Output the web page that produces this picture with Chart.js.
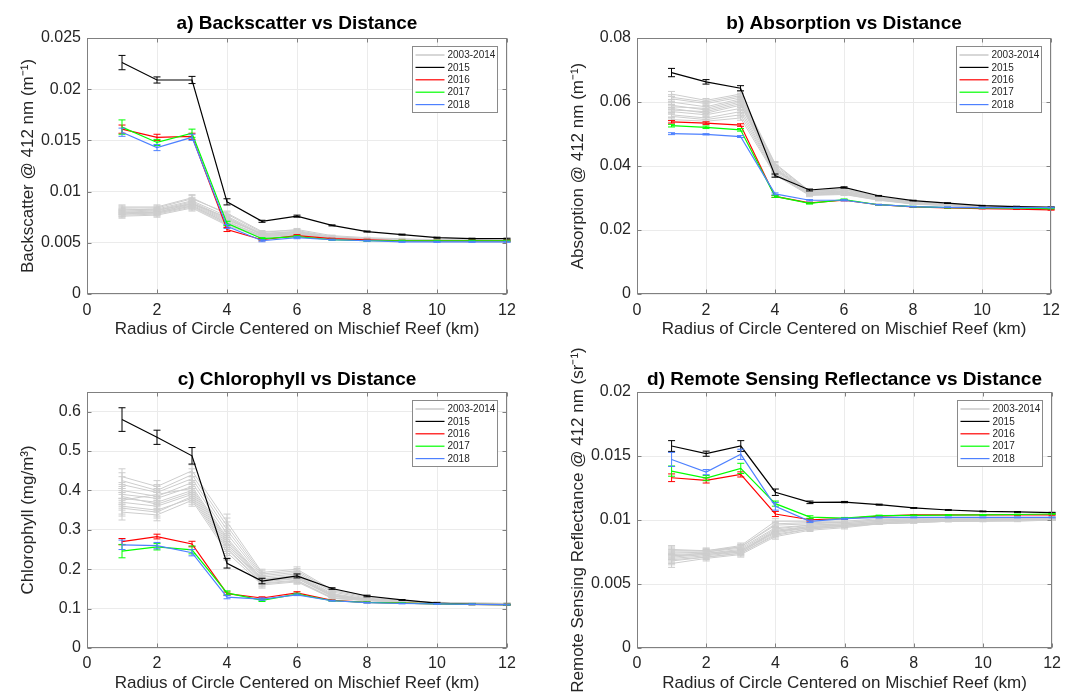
<!DOCTYPE html>
<html><head><meta charset="utf-8">
<script src="https://cdn.jsdelivr.net/npm/chart.js@4.4.1/dist/chart.umd.min.js"></script>
<style>
html,body{margin:0;padding:0;background:#fff;width:1067px;height:694px;overflow:hidden;position:relative}
canvas{position:absolute}
</style></head><body>
<canvas id="ca" width="533" height="347" style="left:0;top:0"></canvas>
<canvas id="cb" width="517" height="347" style="left:550px;top:0"></canvas>
<canvas id="cc" width="533" height="347" style="left:0;top:347px"></canvas>
<canvas id="cd" width="517" height="347" style="left:550px;top:347px"></canvas>
<script>
// ---------------- DATA ----------------
const radius = [1,2,3,4,5,6,7,8,9,10,11,12];
const xTicks = [0,2,4,6,8,10,12];
const legendLabels = ['2003-2014','2015','2016','2017','2018'];
const xAxisTitle = 'Radius of Circle Centered on Mischief Reef (km)';

// a) Backscatter
const bbpTitle = 'a) Backscatter vs Distance';
const bbpAxisTitle = 'Backscatter @ 412 nm (m\u207B\u00B9)';
const bbpTicks = [0,0.005,0.01,0.015,0.02,0.025];
const bbpTickLabels = ['0','0.005','0.01','0.015','0.02','0.025'];
const bbp2015 = [0.0226,0.0209,0.0209,0.0090,0.0071,0.0076,0.0067,0.0061,0.0058,0.0055,0.0054,0.0054];
const bbp2015Err = [0.0007,0.0003,0.00035,0.0003,0.0001,0.0001,0.00005,0.00005,0.00005,0.00005,0.00005,0.00005];
const bbp2016 = [0.0161,0.0153,0.0154,0.0063,0.0053,0.0057,0.0054,0.0053,0.0052,0.0052,0.0052,0.0052];
const bbp2016Err = [0.0004,0.0003,0.0003,0.0002,0.0001,0.0001,0.00005,0.00005,0.00005,0.00005,0.00005,0.00005];
const bbp2017 = [0.0163,0.0148,0.0157,0.0069,0.0054,0.0056,0.0053,0.0052,0.0052,0.0052,0.0052,0.0052];
const bbp2017Err = [0.0007,0.0003,0.0004,0.0002,0.0001,0.0001,0.00005,0.00005,0.00005,0.00005,0.00005,0.00005];
const bbp2018 = [0.0158,0.0143,0.0153,0.0066,0.0052,0.0055,0.0053,0.0052,0.0051,0.0051,0.0051,0.0051];
const bbp2018Err = [0.0004,0.0003,0.0003,0.0002,0.0001,0.0001,0.00005,0.00005,0.00005,0.00005,0.00005,0.00005];
const bbp2003to2014 = [
  [0.0078,0.0079,0.0086,0.0070,0.0057,0.0059,0.0054,0.0053,0.0052,0.0052,0.0051,0.0051],
  [0.0080,0.0081,0.0089,0.0073,0.0058,0.0060,0.0055,0.0053,0.0052,0.0052,0.0052,0.0051],
  [0.0082,0.0083,0.0091,0.0076,0.0059,0.0061,0.0055,0.0054,0.0053,0.0052,0.0052,0.0052],
  [0.0077,0.0078,0.0085,0.0068,0.0056,0.0058,0.0054,0.0053,0.0052,0.0051,0.0051,0.0051],
  [0.0084,0.0084,0.0093,0.0079,0.0061,0.0062,0.0056,0.0054,0.0053,0.0053,0.0052,0.0052],
  [0.0079,0.0080,0.0087,0.0071,0.0057,0.0059,0.0054,0.0053,0.0052,0.0052,0.0051,0.0051],
  [0.0081,0.0082,0.0090,0.0074,0.0058,0.0060,0.0055,0.0054,0.0053,0.0052,0.0052,0.0052],
  [0.0083,0.0082,0.0088,0.0072,0.0059,0.0061,0.0056,0.0054,0.0053,0.0052,0.0052,0.0052],
  [0.0076,0.0077,0.0084,0.0067,0.0055,0.0057,0.0053,0.0052,0.0052,0.0051,0.0051,0.0051],
  [0.0080,0.0079,0.0086,0.0069,0.0056,0.0058,0.0054,0.0053,0.0052,0.0052,0.0051,0.0051],
  [0.0085,0.0085,0.0094,0.0078,0.0060,0.0063,0.0057,0.0055,0.0054,0.0053,0.0053,0.0052],
  [0.0078,0.0080,0.0088,0.0075,0.0058,0.0060,0.0055,0.0053,0.0052,0.0052,0.0052,0.0051]
];
const bbp2003to2014Err = [0.0002,0.0002,0.0003,0.0002,0.0001,0.0001,0.00005,0.00005,0.00005,0.00005,0.00005,0.00005];

// b) Absorption
const absTitle = 'b) Absorption vs Distance';
const absAxisTitle = 'Absorption @ 412 nm (m\u207B\u00B9)';
const absTicks = [0,0.02,0.04,0.06,0.08];
const absTickLabels = ['0','0.02','0.04','0.06','0.08'];
const abs2015 = [0.0692,0.0663,0.0643,0.0370,0.0325,0.0333,0.0307,0.0292,0.0284,0.0276,0.0273,0.0271];
const abs2015Err = [0.0013,0.0007,0.0008,0.0005,0.0003,0.0002,0.0001,0.0001,0.0001,0.0001,0.0001,0.0001];
const abs2016 = [0.0538,0.0534,0.0528,0.0305,0.0285,0.0293,0.0279,0.0272,0.0269,0.0267,0.0265,0.0263];
const abs2016Err = [0.0004,0.0004,0.0004,0.0003,0.0002,0.0002,0.0001,0.0001,0.0001,0.0001,0.0001,0.0001];
const abs2017 = [0.0526,0.0521,0.0513,0.0305,0.0283,0.0295,0.0279,0.0273,0.0270,0.0269,0.0268,0.0267];
const abs2017Err = [0.0004,0.0004,0.0004,0.0003,0.0002,0.0002,0.0001,0.0001,0.0001,0.0001,0.0001,0.0001];
const abs2018 = [0.0501,0.0499,0.0492,0.0313,0.0293,0.0293,0.0279,0.0273,0.0271,0.0270,0.0270,0.0270];
const abs2018Err = [0.0003,0.0002,0.0003,0.0003,0.0002,0.0002,0.0001,0.0001,0.0001,0.0001,0.0001,0.0001];
const abs2003to2014 = [
  [0.0555,0.0545,0.0560,0.0375,0.0310,0.0312,0.0294,0.0282,0.0277,0.0272,0.0271,0.0270],
  [0.0580,0.0565,0.0590,0.0385,0.0315,0.0318,0.0298,0.0284,0.0278,0.0273,0.0272,0.0271],
  [0.0600,0.0585,0.0610,0.0395,0.0318,0.0322,0.0301,0.0286,0.0279,0.0274,0.0272,0.0271],
  [0.0545,0.0540,0.0550,0.0372,0.0308,0.0311,0.0293,0.0281,0.0276,0.0272,0.0270,0.0269],
  [0.0625,0.0605,0.0625,0.0408,0.0322,0.0328,0.0305,0.0288,0.0280,0.0275,0.0273,0.0272],
  [0.0570,0.0560,0.0580,0.0380,0.0312,0.0315,0.0296,0.0283,0.0277,0.0273,0.0271,0.0270],
  [0.0590,0.0575,0.0600,0.0390,0.0316,0.0320,0.0300,0.0285,0.0278,0.0274,0.0272,0.0271],
  [0.0610,0.0595,0.0615,0.0400,0.0320,0.0325,0.0303,0.0287,0.0279,0.0274,0.0273,0.0272],
  [0.0560,0.0550,0.0570,0.0378,0.0311,0.0314,0.0295,0.0282,0.0277,0.0272,0.0271,0.0270],
  [0.0575,0.0570,0.0595,0.0388,0.0314,0.0317,0.0297,0.0284,0.0278,0.0273,0.0272,0.0271],
  [0.0615,0.0600,0.0620,0.0405,0.0321,0.0327,0.0304,0.0288,0.0280,0.0275,0.0273,0.0272],
  [0.0585,0.0580,0.0605,0.0392,0.0317,0.0321,0.0299,0.0285,0.0279,0.0274,0.0272,0.0271]
];
const abs2003to2014Err = [0.0008,0.0006,0.0007,0.0006,0.0004,0.0003,0.0002,0.0001,0.0001,0.0001,0.0001,0.0001];

// c) Chlorophyll
const chlTitle = 'c) Chlorophyll vs Distance';
const chlAxisTitle = 'Chlorophyll (mg/m\u00B3)';
const chlTicks = [0,0.1,0.2,0.3,0.4,0.5,0.6];
const chlTickLabels = ['0','0.1','0.2','0.3','0.4','0.5','0.6'];
const chl2015 = [0.580,0.535,0.488,0.215,0.170,0.183,0.151,0.132,0.122,0.114,0.111,0.110];
const chl2015Err = [0.030,0.018,0.021,0.012,0.007,0.005,0.002,0.002,0.001,0.001,0.001,0.001];
const chl2016 = [0.270,0.283,0.264,0.138,0.127,0.140,0.121,0.116,0.114,0.112,0.111,0.110];
const chl2016Err = [0.008,0.006,0.007,0.004,0.003,0.003,0.001,0.001,0.001,0.001,0.001,0.001];
const chl2017 = [0.246,0.257,0.249,0.140,0.121,0.137,0.120,0.116,0.114,0.112,0.111,0.110];
const chl2017Err = [0.017,0.008,0.010,0.005,0.003,0.002,0.001,0.001,0.001,0.001,0.001,0.001];
const chl2018 = [0.262,0.260,0.242,0.129,0.124,0.135,0.120,0.115,0.113,0.112,0.111,0.110];
const chl2018Err = [0.012,0.008,0.008,0.004,0.003,0.002,0.001,0.001,0.001,0.001,0.001,0.001];
const chl2003to2014 = [
  [0.360,0.350,0.380,0.250,0.165,0.172,0.128,0.121,0.116,0.113,0.112,0.112],
  [0.380,0.370,0.400,0.270,0.172,0.180,0.133,0.123,0.117,0.114,0.113,0.112],
  [0.400,0.385,0.420,0.290,0.180,0.188,0.138,0.125,0.118,0.114,0.113,0.113],
  [0.345,0.338,0.375,0.243,0.160,0.168,0.126,0.120,0.115,0.113,0.112,0.111],
  [0.435,0.410,0.450,0.320,0.192,0.200,0.148,0.132,0.120,0.116,0.114,0.113],
  [0.370,0.360,0.390,0.260,0.168,0.176,0.131,0.122,0.116,0.113,0.112,0.112],
  [0.390,0.380,0.410,0.280,0.176,0.184,0.136,0.124,0.117,0.114,0.113,0.112],
  [0.415,0.395,0.430,0.300,0.184,0.192,0.142,0.127,0.119,0.115,0.114,0.113],
  [0.355,0.345,0.385,0.255,0.163,0.170,0.127,0.121,0.116,0.113,0.112,0.111],
  [0.375,0.390,0.405,0.275,0.174,0.182,0.134,0.123,0.117,0.114,0.113,0.112],
  [0.425,0.400,0.440,0.310,0.188,0.196,0.145,0.130,0.119,0.115,0.114,0.113],
  [0.385,0.365,0.395,0.265,0.170,0.178,0.132,0.122,0.117,0.114,0.113,0.112]
];
const chl2003to2014Err = [0.020,0.015,0.015,0.020,0.008,0.006,0.003,0.002,0.001,0.001,0.001,0.001];

// d) Remote sensing reflectance
const rrsTitle = 'd) Remote Sensing Reflectance vs Distance';
const rrsAxisTitle = 'Remote Sensing Reflectance @ 412 nm (sr\u207B\u00B9)';
const rrsTicks = [0,0.005,0.01,0.015,0.02];
const rrsTickLabels = ['0','0.005','0.01','0.015','0.02'];
const rrs2015 = [0.01578,0.01518,0.01578,0.01217,0.01138,0.01140,0.01120,0.01094,0.01078,0.01067,0.01063,0.01057];
const rrs2015Err = [0.00042,0.0002,0.00042,0.00025,0.0001,0.00005,0.00004,0.00003,0.00003,0.00003,0.00003,0.00003];
const rrs2016 = [0.01330,0.01309,0.01356,0.01047,0.01002,0.01010,0.01030,0.01040,0.01040,0.01040,0.01040,0.01040];
const rrs2016Err = [0.0003,0.0002,0.0002,0.0002,0.0001,0.00005,0.00004,0.00003,0.00003,0.00003,0.00003,0.00003];
const rrs2017 = [0.01382,0.01327,0.01403,0.01128,0.01023,0.01015,0.01034,0.01036,0.01038,0.01040,0.01043,0.01047];
const rrs2017Err = [0.0004,0.0002,0.0004,0.0002,0.0001,0.00005,0.00004,0.00003,0.00003,0.00003,0.00003,0.00003];
const rrs2018 = [0.01473,0.01374,0.01513,0.01107,0.00990,0.01010,0.01020,0.01020,0.01020,0.01020,0.01020,0.01020];
const rrs2018Err = [0.00055,0.0002,0.0004,0.0003,0.0001,0.00005,0.00004,0.00003,0.00003,0.00003,0.00003,0.00003];
const rrs2003to2014 = [
  [0.0068,0.0071,0.0074,0.0088,0.0093,0.0095,0.0097,0.0098,0.0099,0.0099,0.0100,0.0100],
  [0.0071,0.0073,0.0076,0.0091,0.0095,0.0096,0.0098,0.0099,0.0100,0.0100,0.0100,0.0101],
  [0.0073,0.0074,0.0077,0.0093,0.0096,0.0097,0.0099,0.0100,0.0100,0.0101,0.0101,0.0101],
  [0.0066,0.0070,0.0073,0.0087,0.0092,0.0094,0.0097,0.0098,0.0099,0.0099,0.0099,0.0100],
  [0.0077,0.0076,0.0080,0.0099,0.0099,0.0099,0.0101,0.0101,0.0102,0.0102,0.0102,0.0102],
  [0.0070,0.0072,0.0075,0.0090,0.0094,0.0095,0.0098,0.0099,0.0099,0.0100,0.0100,0.0100],
  [0.0072,0.0074,0.0076,0.0092,0.0095,0.0096,0.0098,0.0099,0.0100,0.0100,0.0101,0.0101],
  [0.0075,0.0075,0.0079,0.0096,0.0097,0.0098,0.0100,0.0100,0.0101,0.0101,0.0101,0.0102],
  [0.0069,0.0071,0.0074,0.0089,0.0093,0.0095,0.0097,0.0098,0.0099,0.0100,0.0100,0.0100],
  [0.0072,0.0073,0.0075,0.0091,0.0094,0.0096,0.0098,0.0099,0.0100,0.0100,0.0100,0.0101],
  [0.0076,0.0076,0.0079,0.0097,0.0098,0.0098,0.0100,0.0101,0.0101,0.0101,0.0102,0.0102],
  [0.0074,0.0075,0.0078,0.0094,0.0096,0.0097,0.0099,0.0100,0.0100,0.0101,0.0101,0.0101]
];
const rrs2003to2014Err = [0.0003,0.0002,0.0002,0.0002,0.0001,0.0001,0.00005,0.00004,0.00003,0.00003,0.00003,0.00003];

// ---------------- STYLE ----------------
const FONT = '"Liberation Sans", Arial, Helvetica, sans-serif';
const COL = { gray:'#cdcdcd', y2015:'#000000', y2016:'#ff0000', y2017:'#00ff00', y2018:'#4d80ff' };
const TXT = '#262626';

const errorBars = {
  id: 'errorBars',
  afterDatasetDraw(chart, args) {
    const ds = chart.data.datasets[args.index];
    if (!ds.err) return;
    const xs = chart.scales.x, ys = chart.scales.y, ctx = chart.ctx;
    ctx.save();
    ctx.strokeStyle = ds.borderColor;
    ctx.lineWidth = 1;
    ds.data.forEach((pt, i) => {
      const e = ds.err[i];
      const x = xs.getPixelForValue(pt.x);
      const y1 = ys.getPixelForValue(pt.y - e), y2 = ys.getPixelForValue(pt.y + e);
      ctx.beginPath();
      ctx.moveTo(x, y1); ctx.lineTo(x, y2);
      ctx.moveTo(x - 3.5, y1); ctx.lineTo(x + 3.5, y1);
      ctx.moveTo(x - 3.5, y2); ctx.lineTo(x + 3.5, y2);
      ctx.stroke();
    });
    ctx.restore();
  }
};

const boxFrame = {
  id: 'boxFrame',
  afterDraw(chart) {
    const { ctx, chartArea: a, scales: { x, y } } = chart;
    const L = Math.round(a.left) + 0.5, R = Math.round(a.right) - 0.5;
    const T = Math.round(a.top) + 0.5, B = Math.round(a.bottom) - 0.5;
    ctx.save();
    ctx.strokeStyle = '#808080';
    ctx.lineWidth = 1;
    ctx.strokeRect(L, T, R - L, B - T);
    ctx.beginPath();
    x.ticks.forEach(t => {
      const px = Math.round(x.getPixelForValue(t.value)) + 0.5;
      ctx.moveTo(px, B); ctx.lineTo(px, B - 4);
      ctx.moveTo(px, T); ctx.lineTo(px, T + 4);
    });
    y.ticks.forEach(t => {
      const py = Math.round(y.getPixelForValue(t.value)) + 0.5;
      ctx.moveTo(L, py); ctx.lineTo(L + 4, py);
      ctx.moveTo(R, py); ctx.lineTo(R - 4, py);
    });
    ctx.stroke();
    ctx.restore();
  }
};

const inLegend = {
  id: 'inLegend',
  afterDraw(chart) {
    const { ctx, chartArea: a } = chart;
    const items = chart.data.datasets.filter(d => d.legendText);
    const w = 85, h = 66, rowH = 12.4;
    const x0 = Math.round(a.right - 10 - w) + 0.5, y0 = Math.round(a.top + 8) + 0.5;
    ctx.save();
    ctx.fillStyle = '#ffffff';
    ctx.fillRect(x0, y0, w, h);
    ctx.strokeStyle = '#8a8a8a';
    ctx.lineWidth = 1;
    ctx.strokeRect(x0, y0, w, h);
    ctx.font = '10px ' + FONT;
    ctx.textBaseline = 'middle';
    ctx.textAlign = 'left';
    items.forEach((d, i) => {
      const cy = y0 + 8.5 + i * rowH;
      ctx.strokeStyle = d.borderColor;
      ctx.lineWidth = d.legendText === legendLabels[0] ? 1.6 : 1.2;
      ctx.beginPath();
      ctx.moveTo(x0 + 3, cy); ctx.lineTo(x0 + 32, cy);
      ctx.stroke();
      ctx.fillStyle = TXT;
      ctx.fillText(d.legendText, x0 + 35, cy + 0.5);
    });
    ctx.restore();
  }
};

function series(values, err, color, label, order, width) {
  return {
    label: label || '',
    legendText: label || null,
    data: values.map((v, i) => ({ x: radius[i], y: v })),
    err: err,
    borderColor: color,
    backgroundColor: color,
    borderWidth: width,
    pointRadius: 0,
    pointHoverRadius: 0,
    tension: 0,
    fill: false,
    order: order
  };
}

function makePanel(id, p) {
  const datasets = [];
  p.gray.forEach((row, k) => datasets.push(series(row, p.grayErr, COL.gray, k === 0 ? legendLabels[0] : null, 10, 1)));
  datasets.push(series(p.s2015, p.e2015, COL.y2015, legendLabels[1], 4, 1.2));
  datasets.push(series(p.s2016, p.e2016, COL.y2016, legendLabels[2], 3, 1.2));
  datasets.push(series(p.s2017, p.e2017, COL.y2017, legendLabels[3], 2, 1.2));
  datasets.push(series(p.s2018, p.e2018, COL.y2018, legendLabels[4], 1, 1.2));

  new Chart(document.getElementById(id), {
    type: 'line',
    data: { datasets },
    plugins: [errorBars, boxFrame, inLegend],
    options: {
      responsive: false,
      animation: false,
      devicePixelRatio: 1,
      layout: { padding: { left: 0, right: p.rightPad, top: 0, bottom: 0 } },
      plugins: {
        legend: { display: false },
        tooltip: { enabled: false },
        title: {
          display: true, text: p.title, color: '#000', fullSize: false,
          font: { family: FONT, size: 19, weight: 'bold', lineHeight: 1.2 },
          padding: { top: p.titleTop, bottom: p.titleBottom }
        }
      },
      scales: {
        x: {
          type: 'linear', min: 0, max: 12,
          afterBuildTicks: s => { s.ticks = xTicks.map(v => ({ value: v })); },
          afterFit: s => { s.height = p.xHeight; },
          grid: { color: '#ebebeb', drawTicks: false, lineWidth: 1 },
          border: { display: false },
          ticks: { padding: p.xTickPad, color: TXT, font: { family: FONT, size: 16 }, maxRotation: 0, autoSkip: false,
                   callback: (v, i) => String(xTicks[i]) },
          title: { display: true, text: xAxisTitle, color: TXT, font: { family: FONT, size: 17, lineHeight: 1.2 },
                   padding: { top: 0, bottom: p.xTitlePad } }
        },
        y: {
          type: 'linear', min: p.yMin, max: p.yMax,
          afterBuildTicks: s => { s.ticks = p.yTicks.map(v => ({ value: v })); },
          afterFit: s => { s.width = 87; },
          grid: { color: '#ebebeb', drawTicks: false, lineWidth: 1 },
          border: { display: false },
          ticks: { padding: 6, color: TXT, font: { family: FONT, size: 16 }, autoSkip: false,
                   callback: (v, i) => p.yTickLabels[i] },
          title: { display: true, text: p.yTitle, color: TXT, font: { family: FONT, size: 17, lineHeight: 1.2 },
                   padding: { top: 18, bottom: 0 } }
        }
      }
    }
  });
}

const topGeom = { titleTop: 12.6, titleBottom: 2.6, xHeight: 53, xTickPad: 7, xTitlePad: 7.8 };
const botGeom = { titleTop: 21.6, titleBottom: 0.6, xHeight: 46, xTickPad: 6, xTitlePad: 0.8 };

makePanel('ca', Object.assign({}, topGeom, {
  rightPad: 26, title: bbpTitle, yTitle: bbpAxisTitle, yMin: 0, yMax: 0.025, yTicks: bbpTicks, yTickLabels: bbpTickLabels,
  gray: bbp2003to2014, grayErr: bbp2003to2014Err,
  s2015: bbp2015, e2015: bbp2015Err, s2016: bbp2016, e2016: bbp2016Err,
  s2017: bbp2017, e2017: bbp2017Err, s2018: bbp2018, e2018: bbp2018Err
}));
makePanel('cb', Object.assign({}, topGeom, {
  rightPad: 10, title: absTitle, yTitle: absAxisTitle, yMin: 0, yMax: 0.08, yTicks: absTicks, yTickLabels: absTickLabels,
  gray: abs2003to2014, grayErr: abs2003to2014Err,
  s2015: abs2015, e2015: abs2015Err, s2016: abs2016, e2016: abs2016Err,
  s2017: abs2017, e2017: abs2017Err, s2018: abs2018, e2018: abs2018Err
}));
makePanel('cc', Object.assign({}, botGeom, {
  rightPad: 26, title: chlTitle, yTitle: chlAxisTitle, yMin: 0, yMax: 0.65, yTicks: chlTicks, yTickLabels: chlTickLabels,
  gray: chl2003to2014, grayErr: chl2003to2014Err,
  s2015: chl2015, e2015: chl2015Err, s2016: chl2016, e2016: chl2016Err,
  s2017: chl2017, e2017: chl2017Err, s2018: chl2018, e2018: chl2018Err
}));
makePanel('cd', Object.assign({}, botGeom, {
  rightPad: 10, title: rrsTitle, yTitle: rrsAxisTitle, yMin: 0, yMax: 0.02, yTicks: rrsTicks, yTickLabels: rrsTickLabels,
  gray: rrs2003to2014, grayErr: rrs2003to2014Err,
  s2015: rrs2015, e2015: rrs2015Err, s2016: rrs2016, e2016: rrs2016Err,
  s2017: rrs2017, e2017: rrs2017Err, s2018: rrs2018, e2018: rrs2018Err
}));
</script>
</body></html>
